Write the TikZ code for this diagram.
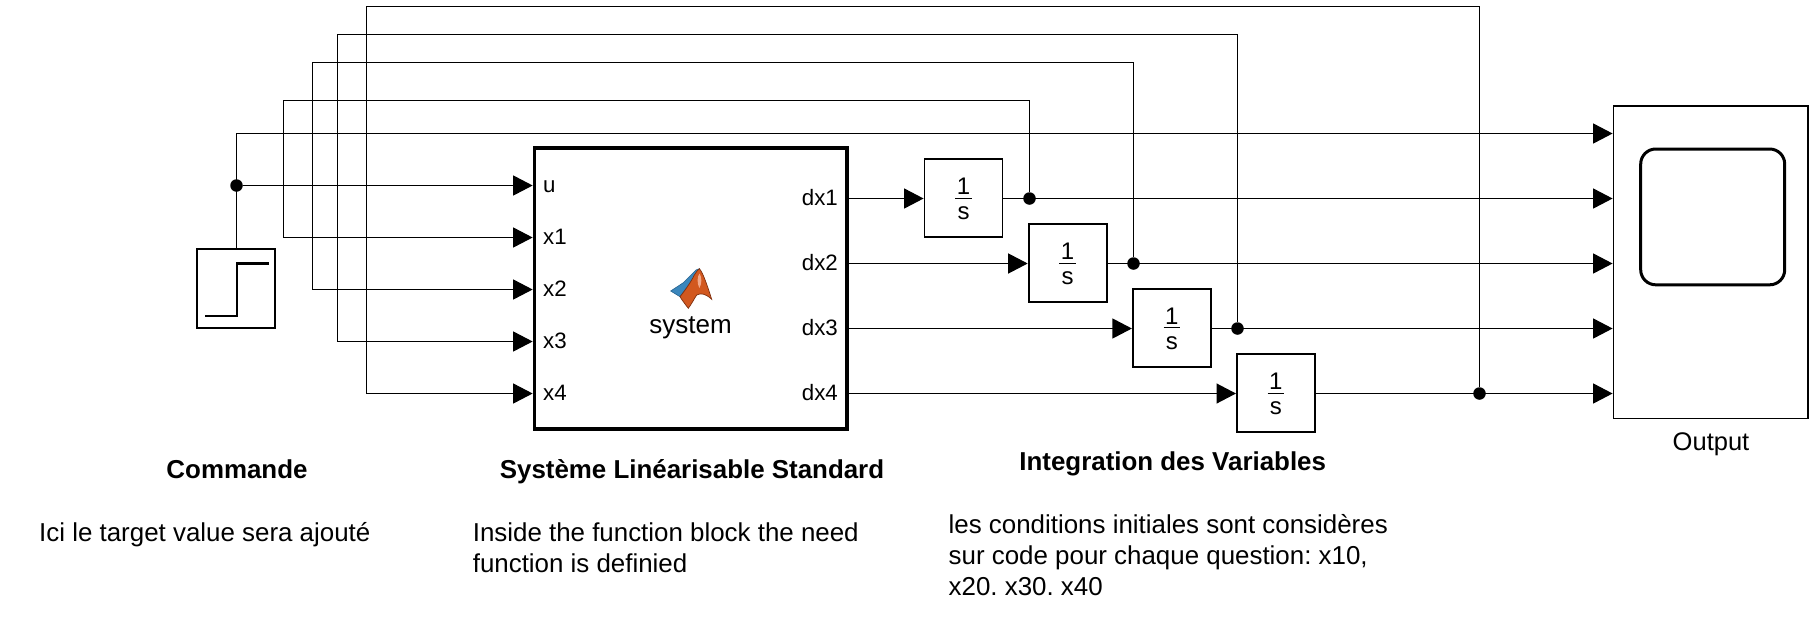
\documentclass[tikz,border=0pt]{standalone}
\usepackage{fontspec}
\setmainfont{Liberation Sans}
\usetikzlibrary{arrows.meta,calc}
\frenchspacing
\definecolor{mlblue}{HTML}{3A86BC}
\definecolor{mlblued}{HTML}{24628F}
\definecolor{mlorange}{HTML}{D2581F}
\definecolor{mlbrown}{HTML}{7E300F}
\definecolor{mlhigh}{HTML}{F2A98A}
\newcommand{\oneovers}{\renewcommand{\arraystretch}{0}\begin{tabular}{@{\hspace{1.5pt}}c@{\hspace{1.5pt}}}\rule[-3pt]{0pt}{23pt}1\\\hline\rule[-1.5pt]{0pt}{23pt}s\end{tabular}}
\tikzset{
  x=1pt,y=-1pt,
  wire/.style={line width=1.3pt,black},
  thinwire/.style={line width=1.1pt,black},
  sig/.style={wire,-{Triangle[length=19.5pt,width=20pt]},shorten >=0pt},
  fbk/.style={thinwire,-{Triangle[length=19.5pt,width=20pt]}},
  dot/.style={circle,fill=black,inner sep=0pt,minimum size=12.5pt},
  intbox/.style={draw=black,line width=1.8pt,fill=white,minimum width=78pt,minimum height=78pt,inner sep=0pt,font=\fontsize{24}{26}\selectfont},
  portl/.style={inner sep=0pt,font=\fontsize{22.3}{24}\selectfont},
  head/.style={inner sep=0pt,anchor=base,font=\fontsize{25.9}{31}\selectfont\bfseries},
  body/.style={inner sep=0pt,font=\fontsize{25.9}{31}\selectfont,align=left}
}
\begin{document}
\begin{tikzpicture}
\useasboundingbox (0,0) rectangle (1813,622);
% blocks
\node[draw=black,line width=2pt,minimum width=78.5pt,minimum height=78.5pt,inner sep=0pt] (step) at (235.8,288.3) {};
\node[draw=black,line width=3.6pt,minimum width=312.5pt,minimum height=281pt,inner sep=0pt] (block) at (690.7,288.5) {};
\node[intbox] (int1) at (963.5,197.8) {\oneovers};
\node[intbox] (int2) at (1067.6,262.8) {\oneovers};
\node[intbox] (int3) at (1171.8,327.6) {\oneovers};
\node[intbox] (int4) at (1275.9,392.7) {\oneovers};
\node[draw=black,line width=1.7pt,minimum width=194.3pt,minimum height=312.2pt,inner sep=0pt] (scope) at (1710.6,262.4) {};
\node[draw=black,line width=3pt,rounded corners=15pt,minimum width=144pt,minimum height=135.8pt,inner sep=0pt] (screen) at (1712.7,216.9) {};
% step glyph
\coordinate (s1) at (205,316);
\coordinate (s2) at (237,316);
\coordinate (s3) at (237,263.4);
\coordinate (s4) at (269,263.4);
\draw[line width=2.4pt] (s1) -- (s2) -- (s3) -- (s4);
% port coordinates on the block and the scope
\coordinate (pu) at (block.west |- 0,185.5);
\coordinate (p1) at (block.west |- 0,237.5);
\coordinate (p2) at (block.west |- 0,289.5);
\coordinate (p3) at (block.west |- 0,341.5);
\coordinate (p4) at (block.west |- 0,393.5);
\coordinate (q0) at (scope.west |- 0,133.5);
% junctions
\node[dot] (j0) at (236.5,185.5) {};
\node[dot] (j1) at (1029.5,198.5) {};
\node[dot] (j2) at (1133.5,263.5) {};
\node[dot] (j3) at (1237.5,328.5) {};
\node[dot] (j4) at (1479.5,393.5) {};
% corner coordinates
\coordinate (c0) at (236.5,133.5);
\coordinate (c1a) at (283.5,100.5);
\coordinate (c2a) at (312.5,62.5);
\coordinate (c3a) at (337.5,34.5);
\coordinate (c4a) at (366.5,6.5);
% step to scope and block
\draw[sig] (step.north -| c0) -- (c0) -- (q0);
\draw[sig] (j0) -- (pu);
% feedback
\draw[fbk] (j1) -- (j1 |- c1a) -- (c1a) -- (c1a |- p1) -- (p1);
\draw[fbk] (j2) -- (j2 |- c2a) -- (c2a) -- (c2a |- p2) -- (p2);
\draw[fbk] (j3) -- (j3 |- c3a) -- (c3a) -- (c3a |- p3) -- (p3);
\draw[fbk] (j4) -- (j4 |- c4a) -- (c4a) -- (c4a |- p4) -- (p4);
% forward
\draw[sig] (block.east |- j1) -- (int1.west |- j1);
\draw[sig] (block.east |- j2) -- (int2.west |- j2);
\draw[sig] (block.east |- j3) -- (int3.west |- j3);
\draw[sig] (block.east |- j4) -- (int4.west |- j4);
\draw[sig] (int1.east |- j1) -- (scope.west |- j1);
\draw[sig] (int2.east |- j2) -- (scope.west |- j2);
\draw[sig] (int3.east |- j3) -- (scope.west |- j3);
\draw[sig] (int4.east |- j4) -- (scope.west |- j4);
% port labels
\node[portl,anchor=mid west] (lu) at (543,189.5) {u};
\node[portl,anchor=mid west] (l1) at (543,241.5) {x1};
\node[portl,anchor=mid west] (l2) at (543,293.5) {x2};
\node[portl,anchor=mid west] (l3) at (543,345.5) {x3};
\node[portl,anchor=mid west] (l4) at (543,397.5) {x4};
\node[portl,anchor=mid east] (ld1) at (838,203.3) {dx1};
\node[portl,anchor=mid east] (ld2) at (838,267.9) {dx2};
\node[portl,anchor=mid east] (ld3) at (838,332.9) {dx3};
\node[portl,anchor=mid east] (ld4) at (838,397.5) {dx4};
% MATLAB logo
\fill[mlblue,draw=mlblued,line width=0.6pt] (670.7,291) -- (683.3,282.7) -- (696,270) -- (699.3,268.7) -- (690,283) -- (680,296.7) -- cycle;
\fill[mlorange,draw=mlbrown,line width=0.7pt] (699.3,268.7) .. controls (703,272) and (708,288) .. (711.7,299.3) .. controls (706,294) and (701,292.5) .. (696.7,295) .. controls (694,299) and (691,305) .. (688.3,308.3) .. controls (685,304) and (682,300) .. (680,296.7) .. controls (686,289) and (691,282) .. (694,275.5) .. controls (696,272.5) and (697.5,270) .. (699.3,268.7) -- cycle;
\fill[mlhigh] (699.5,273.5) .. controls (702,277) and (702,284) .. (699.3,288) .. controls (697,283) and (697,277) .. (699.5,273.5) -- cycle;
\node[inner sep=0pt,font=\fontsize{26}{30}\selectfont] (sysl) at (690.5,328) {system};
% captions
\node[inner sep=0pt,font=\fontsize{25.5}{28}\selectfont] (outl) at (1711,444) {Output};
\node[head] (h1) at (237,478) {Commande};
\node[head] (h2) at (692,478) {Système Linéarisable Standard};
\node[head] (h3) at (1172.7,470) {Integration des Variables};
\node[body,anchor=west] (t1) at (39,534.5) {Ici le target value sera ajouté};
\node[body,anchor=north west] (t2) at (472.6,522.5) {Inside the function block the need\\function is definied};
\node[body,anchor=north west] (t3) at (948.5,514) {les conditions initiales sont considères\\sur code pour chaque question: x10,\\x20. x30. x40};
\end{tikzpicture}
\end{document}
